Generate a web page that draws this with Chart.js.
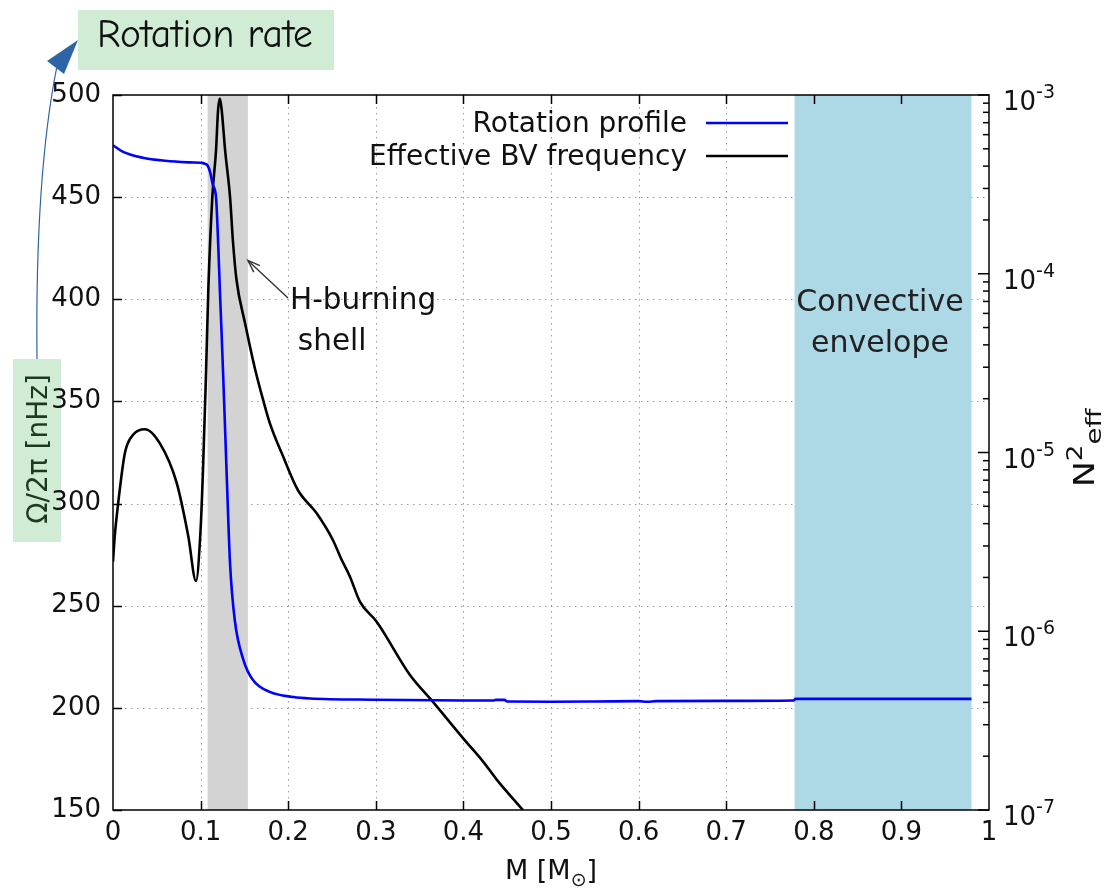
<!DOCTYPE html>
<html><head><meta charset="utf-8">
<script src="https://cdn.jsdelivr.net/npm/chart.js@4.4.1/dist/chart.umd.min.js"></script>
<style>html,body{margin:0;padding:0;background:#fff;}canvas{display:block;}</style>
</head><body>
<canvas id="c" width="1112" height="894"></canvas>
<script>
// ---- data ----
const rotMass = [0, 0.011, 0.034, 0.06, 0.088, 0.1, 0.104, 0.108, 0.111, 0.114, 0.1176, 0.12, 0.122, 0.124, 0.126, 0.128, 0.13, 0.1336, 0.139, 0.149, 0.16, 0.179, 0.206, 0.225, 0.3, 0.4, 0.435, 0.437, 0.447, 0.45, 0.5, 0.55, 0.6, 0.61, 0.62, 0.7, 0.777, 0.779, 0.98];
const rotRate = [475.4, 472.3, 469.3, 467.8, 467.0, 466.8, 466.5, 465.5, 462, 456, 450, 428, 404.5, 383, 360, 336, 311.5, 270.7, 243, 223.3, 213.5, 207.8, 205.3, 204.6, 204.0, 203.6, 203.6, 203.9, 203.9, 203.1, 203.0, 203.1, 203.3, 203.0, 203.3, 203.4, 203.6, 204.4, 204.4];
const bvMass = [0, 0.002, 0.006, 0.0137, 0.0232, 0.0365, 0.0537, 0.0727, 0.086, 0.0947, 0.1, 0.103, 0.106, 0.1088, 0.1134, 0.1176, 0.12, 0.122, 0.124, 0.128, 0.1336, 0.137, 0.141, 0.1507, 0.162, 0.1716, 0.179, 0.194, 0.211, 0.2325, 0.251, 0.261, 0.2705, 0.282, 0.301, 0.339, 0.365, 0.4, 0.4227, 0.438, 0.468];
const bvFreq = [2.45e-6, 3.4e-6, 5.25e-6, 1.0e-5, 1.26e-5, 1.35e-5, 1.12e-5, 6.76e-6, 3.39e-6, 1.91e-6, 3.72e-6, 8.71e-6, 2.57e-5, 8.13e-5, 2.69e-4, 4.90e-4, 8.32e-4, 9.55e-4, 8.32e-4, 4.90e-4, 2.69e-4, 1.5e-4, 9.23e-5, 5.30e-5, 2.95e-5, 1.95e-5, 1.46e-5, 9.55e-6, 6.17e-6, 4.57e-6, 3.24e-6, 2.51e-6, 2.02e-6, 1.46e-6, 1.13e-6, 5.69e-7, 4.04e-7, 2.51e-7, 1.86e-7, 1.48e-7, 1.0e-7];
const xTicks = [0, 0.1, 0.2, 0.3, 0.4, 0.5, 0.6, 0.7, 0.8, 0.9, 1];
const xTickLabels = ['0', '0.1', '0.2', '0.3', '0.4', '0.5', '0.6', '0.7', '0.8', '0.9', '1'];
const leftTicks = [150, 200, 250, 300, 350, 400, 450, 500];
const leftTickLabels = ['150', '200', '250', '300', '350', '400', '450', '500'];
const rightTicks = [1e-7, 1e-6, 1e-5, 1e-4, 1e-3];
const rightTickBase = ['10', '10', '10', '10', '10'];
const rightTickExp = ['-7', '-6', '-5', '-4', '-3'];
const shellBand = [0.108, 0.154];
const envelopeBand = [0.778, 0.98];
const seriesNames = ['Rotation profile', 'Effective BV frequency'];

const FONT = "'DejaVu Sans', 'Noto Sans', sans-serif";

function richText(ctx, parts, x, y, rot, align, stretch) {
  ctx.save();
  ctx.translate(x, y);
  if (rot) ctx.rotate(rot);
  if (stretch) ctx.scale(stretch, 1);
  let total = 0;
  parts.forEach(p => { ctx.font = p.size + 'px ' + FONT; p.w = ctx.measureText(p.t).width; total += p.w; });
  let cx = align === 'center' ? -total / 2 : (align === 'right' ? -total : 0);
  ctx.textBaseline = 'alphabetic';
  ctx.textAlign = 'left';
  parts.forEach(p => { ctx.font = p.size + 'px ' + FONT; ctx.fillText(p.t, cx, p.dy || 0); cx += p.w; });
  ctx.restore();
}

const deco = {
  id: 'deco',
  beforeDraw(chart) {
    const { ctx } = chart;
    ctx.save();
    // left axis title box (drawn beneath the tick labels)
    ctx.fillStyle = '#d0ecd4';
    ctx.fillRect(13, 359, 48, 183);
    ctx.fillStyle = '#1e3a1e';
    richText(ctx, [{ t: '\u03A9/2\u03C0 [nHz]', size: 28, dy: 0 }], 47, 449, -Math.PI / 2, 'center');
    ctx.restore();
  },
  beforeDatasetsDraw(chart) {
    const { ctx, chartArea: a, scales: { x, y } } = chart;
    ctx.save();
    ctx.strokeStyle = '#9a9a9a'; ctx.lineWidth = 1; ctx.setLineDash([1.5, 4.5]);
    xTicks.forEach(v => {
      if (v <= 0 || v >= 1) return;
      const px = Math.round(x.getPixelForValue(v)) + 0.5;
      ctx.beginPath(); ctx.moveTo(px, a.top); ctx.lineTo(px, a.bottom); ctx.stroke();
    });
    leftTicks.forEach(v => {
      if (v <= 150 || v >= 500) return;
      const py = Math.round(y.getPixelForValue(v)) + 0.5;
      ctx.beginPath(); ctx.moveTo(a.left, py); ctx.lineTo(a.right, py); ctx.stroke();
    });
    ctx.setLineDash([]);
    ctx.fillStyle = '#d3d3d3';
    let l = x.getPixelForValue(shellBand[0]), r = x.getPixelForValue(shellBand[1]);
    ctx.fillRect(l, a.top, r - l, a.bottom - a.top);
    ctx.fillStyle = '#add8e6';
    l = x.getPixelForValue(envelopeBand[0]); r = x.getPixelForValue(envelopeBand[1]);
    ctx.fillRect(l, a.top, r - l, a.bottom - a.top);
    ctx.restore();
  },
  afterDatasetsDraw(chart) {
    const { ctx, chartArea: a, scales: { x, y, y2 } } = chart;
    ctx.save();
    // frame
    ctx.strokeStyle = '#000'; ctx.lineWidth = 1.5;
    ctx.strokeRect(a.left, a.top, a.right - a.left, a.bottom - a.top);
    // inward ticks
    xTicks.forEach(v => {
      if (v <= 0 || v >= 1) return;
      const px = Math.round(x.getPixelForValue(v)) + 0.5;
      ctx.beginPath(); ctx.moveTo(px, a.bottom); ctx.lineTo(px, a.bottom - 9);
      ctx.moveTo(px, a.top); ctx.lineTo(px, a.top + 9); ctx.stroke();
    });
    leftTicks.forEach(v => {
      const py = Math.round(y.getPixelForValue(v)) + 0.5;
      ctx.beginPath(); ctx.moveTo(a.left, py); ctx.lineTo(a.left + 9, py); ctx.stroke();
    });
    for (let d = 0; d < rightTicks.length; d++) {
      const base = rightTicks[d];
      const py = y2.getPixelForValue(base);
      ctx.beginPath(); ctx.moveTo(a.right, py); ctx.lineTo(a.right - 11, py); ctx.stroke();
      if (d < rightTicks.length - 1) {
        for (let m = 2; m <= 9; m++) {
          const pm = y2.getPixelForValue(base * m);
          ctx.beginPath(); ctx.moveTo(a.right, pm); ctx.lineTo(a.right - 6, pm); ctx.stroke();
        }
      }
    }
    // right tick labels
    ctx.fillStyle = '#111';
    rightTicks.forEach((v, i) => {
      const py = y2.getPixelForValue(v);
      richText(ctx, [{ t: rightTickBase[i], size: 26, dy: 0 }, { t: rightTickExp[i], size: 19, dy: -12 }], a.right + 14, py + 15, 0, 'left');
    });
    // right axis title N^2_eff
    richText(ctx, [{ t: 'N', size: 28, dy: 0 }, { t: '2', size: 21, dy: -12 }, { t: 'eff', size: 22, dy: 7 }], 1094, 448, -Math.PI / 2, 'center', 1.25);
    // x axis title
    const cxm = (a.left + a.right) / 2;
    richText(ctx, [{ t: 'M [M', size: 27, dy: 0 }, { t: '\u2299', size: 19, dy: 7 }, { t: ']', size: 27, dy: 0 }], cxm, 879, 0, 'center');
    // Rotation rate box + arrow
    ctx.fillStyle = '#d0ecd4';
    ctx.fillRect(78, 10, 256, 60);
    ctx.fillStyle = '#111';
    let fs = 36;
    const hf = "'Comic Neue', 'Comic Sans MS', Lato, sans-serif";
    ctx.font = fs + 'px ' + hf;
    const w = ctx.measureText('Rotation rate').width;
    fs = fs * 216 / w;
    ctx.font = fs + 'px ' + hf;
    ctx.textBaseline = 'alphabetic'; ctx.textAlign = 'left';
    ctx.fillText('Rotation rate', 97, 47);
    ctx.strokeStyle = '#2d64a8'; ctx.lineWidth = 1.2;
    ctx.beginPath(); ctx.moveTo(37, 359); ctx.quadraticCurveTo(35, 175, 57, 66); ctx.stroke();
    ctx.fillStyle = '#2d64a8';
    ctx.beginPath(); ctx.moveTo(47, 61); ctx.lineTo(64, 74); ctx.lineTo(78, 40); ctx.closePath(); ctx.fill();
    // H-burning shell annotation
    const tipX = x.getPixelForValue(shellBand[1]), tipY = y.getPixelForValue(419);
    const tailX = x.getPixelForValue(0.1998), tailY = y.getPixelForValue(400.6);
    ctx.strokeStyle = '#333'; ctx.lineWidth = 1.4;
    ctx.beginPath(); ctx.moveTo(tailX, tailY); ctx.lineTo(tipX, tipY); ctx.stroke();
    const ang = Math.atan2(tailY - tipY, tailX - tipX);
    ctx.beginPath();
    ctx.moveTo(tipX + 13 * Math.cos(ang - 0.35), tipY + 13 * Math.sin(ang - 0.35));
    ctx.lineTo(tipX, tipY);
    ctx.lineTo(tipX + 13 * Math.cos(ang + 0.35), tipY + 13 * Math.sin(ang + 0.35));
    ctx.stroke();
    ctx.fillStyle = '#111';
    ctx.font = '29.5px ' + FONT; ctx.textAlign = 'left'; ctx.textBaseline = 'alphabetic';
    ctx.fillText('H-burning', x.getPixelForValue(0.202), y.getPixelForValue(395.2));
    ctx.fillText('shell', x.getPixelForValue(0.211), y.getPixelForValue(375.1));
    // Convective envelope
    ctx.font = '30px ' + FONT; ctx.textAlign = 'center';
    const bc = (x.getPixelForValue(envelopeBand[0]) + x.getPixelForValue(envelopeBand[1])) / 2 - 3;
    ctx.fillStyle = '#222';
    ctx.fillText('Convective', bc, y.getPixelForValue(394.2));
    ctx.fillText('envelope', bc, y.getPixelForValue(374.1));
    // legend
    ctx.font = '28px ' + FONT; ctx.textAlign = 'right'; ctx.textBaseline = 'middle';
    ctx.fillStyle = '#111';
    const ds = chart.data.datasets;
    const ly = [a.top + 28, a.top + 61];
    ds.forEach((d, i) => {
      ctx.fillText(seriesNames[i], a.right - 302, ly[i] + 2);
      ctx.strokeStyle = d.borderColor; ctx.lineWidth = 2.5;
      ctx.beginPath(); ctx.moveTo(a.right - 283, ly[i]); ctx.lineTo(a.right - 201, ly[i]); ctx.stroke();
    });
    ctx.restore();
  }
};

new Chart(document.getElementById('c'), {
  type: 'scatter',
  data: {
    datasets: [
      { label: seriesNames[0], data: rotMass.map((m, i) => ({ x: m, y: rotRate[i] })), yAxisID: 'y',
        borderColor: '#0000ff', borderWidth: 2.6, showLine: true, pointRadius: 0, cubicInterpolationMode: 'monotone' },
      { label: seriesNames[1], data: bvMass.map((m, i) => ({ x: m, y: bvFreq[i] })), yAxisID: 'y2',
        borderColor: '#000000', borderWidth: 2.6, showLine: true, pointRadius: 0, cubicInterpolationMode: 'monotone' }
    ]
  },
  options: {
    responsive: false, animation: false, devicePixelRatio: 1,
    layout: { padding: { top: 95, left: 0, right: 0, bottom: 0 } },
    plugins: { legend: { display: false }, tooltip: { enabled: false } },
    scales: {
      x: {
        type: 'linear', min: 0, max: 1, position: 'bottom',
        grid: { display: false, drawTicks: false }, border: { display: false },
        afterBuildTicks: s => { s.ticks = xTicks.map(v => ({ value: v })); },
        ticks: { font: { family: FONT, size: 26 }, color: '#111', padding: 8, maxRotation: 0, autoSkip: false,
          callback: (v, i) => xTickLabels[i] },
        afterFit: s => { s.height = 84; }
      },
      y: {
        type: 'linear', min: 150, max: 500, position: 'left',
        grid: { display: false, drawTicks: false }, border: { display: false },
        afterBuildTicks: s => { s.ticks = leftTicks.map(v => ({ value: v })); },
        ticks: { font: { family: FONT, size: 26 }, color: '#111', padding: 12, autoSkip: false,
          callback: (v, i) => leftTickLabels[i] },
        afterFit: s => { s.width = 113; }
      },
      y2: {
        type: 'logarithmic', min: 1e-7, max: 1e-3, position: 'right',
        grid: { display: false, drawTicks: false }, border: { display: false },
        ticks: { display: false },
        afterFit: s => { s.width = 123; }
      }
    }
  },
  plugins: [deco]
});
</script>
</body></html>
